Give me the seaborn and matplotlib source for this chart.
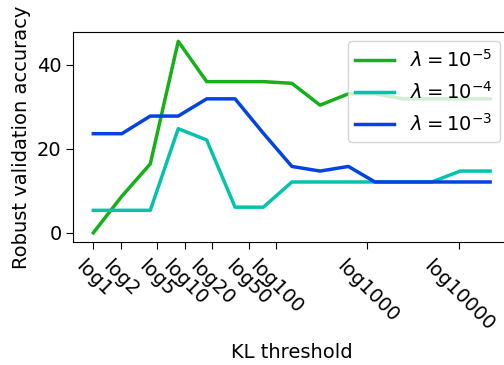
import matplotlib
matplotlib.use("Agg")
import matplotlib.pyplot as plt
import seaborn as sns
import pandas as pd
from matplotlib.ticker import NullLocator

# values
kl_threshold = [1, 2.05, 4.2, 8.5, 17.4, 35.6, 72.6, 149, 303, 619, 1210, 2480, 5060, 10350, 22000]
acc_lam_1e5 = [0, 8.7, 16.4, 45.6, 36.0, 36.0, 36.0, 35.6, 30.4, 33.1, 33.1, 31.9, 31.9, 31.9, 31.9]
acc_lam_1e4 = [5.35, 5.35, 5.35, 24.8, 22.1, 6.1, 6.1, 12.1, 12.1, 12.1, 12.1, 12.1, 12.1, 14.7, 14.7]
acc_lam_1e3 = [23.6, 23.6, 27.8, 27.8, 31.9, 31.9, 23.7, 15.8, 14.7, 15.8, 12.1, 12.1, 12.1, 12.1, 12.1]
labels = [r'$\lambda=10^{-5}$', r'$\lambda=10^{-4}$', r'$\lambda=10^{-3}$']
colors = ['xkcd:green', 'xkcd:turquoise', 'xkcd:blue']
tick_values = [1, 2, 5, 10, 20, 50, 100, 1000, 10000]
tick_labels = ['log1', 'log2', 'log5', 'log10', 'log20', 'log50', 'log100', 'log1000', 'log10000']

# long form table for seaborn
rows = []
for lab, ys in zip(labels, [acc_lam_1e5, acc_lam_1e4, acc_lam_1e3]):
    for x, y in zip(kl_threshold, ys):
        rows.append({'kl': x, 'acc': y, 'lam': lab})
df = pd.DataFrame(rows)

plt.rcParams['font.size'] = 14
plt.rcParams['xtick.major.size'] = 5
plt.rcParams['ytick.major.size'] = 5
plt.rcParams['xtick.major.pad'] = 5.5
fig = plt.figure(figsize=(5.04, 3.65), dpi=100)
ax = fig.add_axes([0.1458, 0.336, 0.866, 0.577])
sns.lineplot(data=df, x='kl', y='acc', hue='lam', palette=colors, hue_order=labels,
             linewidth=2.5, ax=ax)
ax.set_xscale('log')
ax.set_xticks(tick_values)
ax.set_xticklabels(tick_labels, rotation=-45)
ax.xaxis.set_minor_locator(NullLocator())
ax.set_yticks([0, 20, 40])
ax.set_xlabel('KL threshold', labelpad=6)
ax.set_ylabel('Robust validation accuracy')
ax.legend(loc='upper right')
fig.savefig('out.png', dpi=100)
